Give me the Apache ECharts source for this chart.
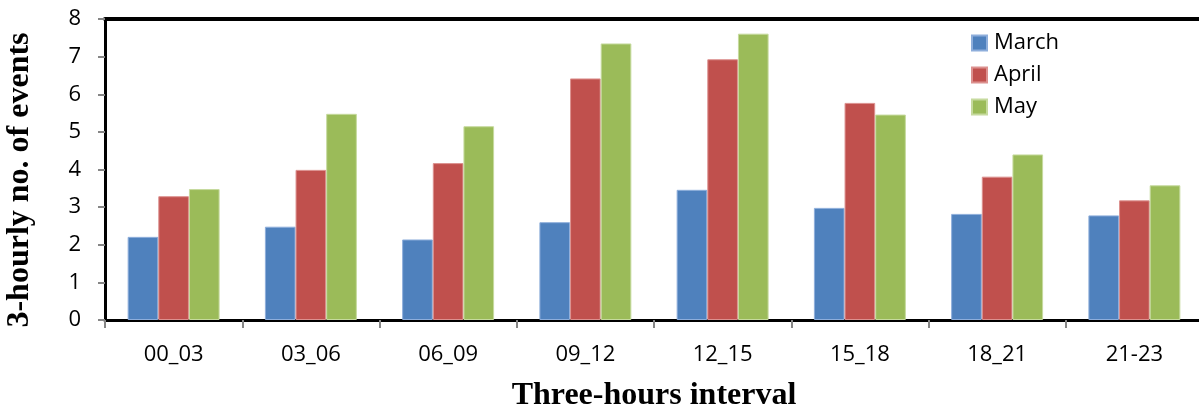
<!DOCTYPE html>
<html>
<head>
<meta charset="utf-8">
<script src="https://cdn.jsdelivr.net/npm/echarts@6/dist/echarts.min.js"></script>
<style>
  html, body { margin: 0; padding: 0; background: #fff; }
  #chart { width: 1199px; height: 413px; }
</style>
</head>
<body>
<div id="chart"></div>
<script>
// Three-hour intervals of the day
const categories = ['00_03', '03_06', '06_09', '09_12', '12_15', '15_18', '18_21', '21-23'];

// Mean number of events per 3-hour interval, by month
const march = [2.21, 2.48, 2.14, 2.60, 3.46, 2.98, 2.82, 2.78];
const april = [3.29, 3.99, 4.17, 6.42, 6.93, 5.77, 3.81, 3.18];
const may   = [3.48, 5.48, 5.15, 7.35, 7.61, 5.46, 4.40, 3.58];

const yTicks = [0, 1, 2, 3, 4, 5, 6, 7, 8];

const tickFont = '"Open Sans", "Noto Sans", sans-serif';
const titleFont = '"Liberation Serif", "Times New Roman", serif';

const chart = echarts.init(document.getElementById('chart'), null, { renderer: 'canvas' });

function barSeries(name, data, color, edge) {
  return {
    name: name,
    type: 'bar',
    data: data,
    barGap: '0%',
    barCategoryGap: '33%',
    itemStyle: { color: color, borderColor: edge, borderWidth: 1 },
    emphasis: { disabled: true }
  };
}

chart.setOption({
  animation: false,
  backgroundColor: '#ffffff',
  grid: { left: 105, right: -4, top: 19, bottom: 93, containLabel: false, outerBoundsMode: 'none' },
  legend: {
    orient: 'vertical',
    left: 971,
    top: 32,
    padding: 0,
    itemWidth: 15,
    itemHeight: 15,
    itemGap: 10,
    icon: 'rect',
    textStyle: { fontFamily: tickFont, fontSize: 22, color: '#000', padding: [0, 0, 0, 2] },
    data: ['March', 'April', 'May']
  },
  xAxis: [
    {
      type: 'category',
      data: categories,
      position: 'bottom',
      name: 'Three-hours interval',
      nameLocation: 'middle',
      nameGap: 60,
      nameTextStyle: { fontFamily: titleFont, fontWeight: 'bold', fontSize: 32, color: '#000' },
      axisLine: { show: true, lineStyle: { color: '#000', width: 3 } },
      axisTick: { show: true, alignWithLabel: false, length: 8, lineStyle: { color: '#868686', width: 2 } },
      axisLabel: { fontFamily: tickFont, fontSize: 22, color: '#000', margin: 24 },
      splitLine: { show: false }
    },
    {
      type: 'category',
      data: categories,
      position: 'top',
      axisLine: { show: true, lineStyle: { color: '#000', width: 4 } },
      axisTick: { show: false },
      axisLabel: { show: false },
      splitLine: { show: false }
    }
  ],
  yAxis: {
    type: 'value',
    min: yTicks[0],
    max: yTicks[yTicks.length - 1],
    interval: 1,
    axisLine: { show: true, lineStyle: { color: '#000', width: 3 } },
    axisTick: { show: true, length: 7, lineStyle: { color: '#868686', width: 2 } },
    axisLabel: { fontFamily: tickFont, fontSize: 22, color: '#000', margin: 24 },
    splitLine: { show: false }
  },
  graphic: [
    {
      type: 'text',
      x: 20,
      y: 180,
      rotation: Math.PI / 2,
      style: {
        text: '3-hourly no. of events',
        fontFamily: titleFont,
        fontWeight: 'bold',
        fontSize: 32,
        fill: '#000',
        align: 'center',
        verticalAlign: 'middle'
      }
    }
  ],
  series: [
    barSeries('March', march, '#4F81BD', '#8EAEDB'),
    barSeries('April', april, '#C0504D', '#DC918F'),
    barSeries('May', may, '#9BBB59', '#C6DA9E')
  ]
});
</script>
</body>
</html>
